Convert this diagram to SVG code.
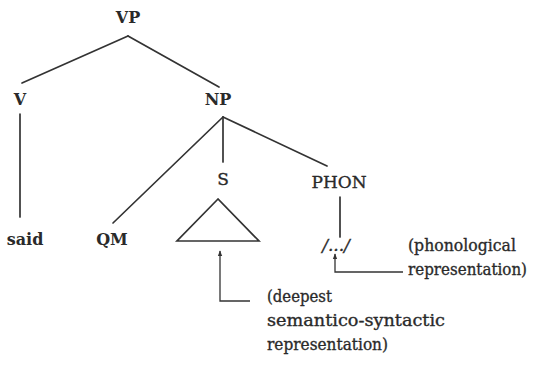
<svg xmlns="http://www.w3.org/2000/svg" width="535" height="365" viewBox="0 0 535 365">
<defs>
<style>
.lb{font-family:"DejaVu Serif","Liberation Serif",serif;font-weight:bold;font-size:16px;fill:#2a2a2a;text-anchor:middle}
.rg{font-family:"DejaVu Serif","Liberation Serif",serif;font-size:17px;fill:#2a2a2a;stroke:#2a2a2a;stroke-width:0.35}
.ln{stroke:#333;stroke-width:1.7;fill:none;stroke-linecap:round}
.ar{stroke:#333;stroke-width:1.3;fill:none}
</style>
<marker id="ah" viewBox="0 0 8 8" refX="7" refY="4" markerWidth="6" markerHeight="6" orient="auto" markerUnits="userSpaceOnUse">
<path d="M0,1 L8,4 L0,7 Z" fill="#333"/>
</marker>
</defs>
<rect width="535" height="365" fill="#fff"/>
<g id="connectors">
<line class="ln" x1="128" y1="36" x2="22" y2="83"/>
<line class="ln" x1="128" y1="36" x2="219" y2="87"/>
<line class="ln" x1="20" y1="114" x2="20" y2="217"/>
<line class="ln" x1="223" y1="117" x2="113" y2="223"/>
<line class="ln" x1="223" y1="117" x2="223" y2="162"/>
<line class="ln" x1="223" y1="117" x2="327" y2="166"/>
<line class="ln" x1="340" y1="197" x2="340" y2="237"/>
<polyline class="ar" points="250,301 220,301 220,251" marker-end="url(#ah)"/>
<polyline class="ar" points="403,272 335,272 335,254" marker-end="url(#ah)"/>
</g>
<g id="VP"><text class="lb" x="128" y="23">VP</text></g>
<g id="V"><text class="lb" x="20" y="105">V</text></g>
<g id="NP"><text class="lb" x="218" y="105">NP</text></g>
<g id="said"><text class="lb" x="25" y="245">said</text></g>
<g id="QM"><text class="lb" x="112" y="245">QM</text></g>
<g id="S">
<text class="rg" x="223" y="185" text-anchor="middle">S</text>
<polygon class="ln" points="218,199 177,241 259,241" stroke-linejoin="miter"/>
</g>
<g id="PHON"><text class="rg" x="339" y="188" text-anchor="middle" font-size="16.5">PHON</text></g>
<g id="phon-form"><text class="rg" x="336" y="251" text-anchor="middle" font-style="italic" font-size="14">/.../</text></g>
<g id="phon-note">
<text class="rg" x="408" y="251" textLength="108" lengthAdjust="spacingAndGlyphs">(phonological</text>
<text class="rg" x="527" y="275" font-size="15.5" text-anchor="end" textLength="119" lengthAdjust="spacingAndGlyphs">representation)</text>
</g>
<g id="deep-note">
<text class="rg" x="267" y="302" textLength="65" lengthAdjust="spacingAndGlyphs">(deepest</text>
<text class="rg" x="267" y="326" textLength="178" lengthAdjust="spacingAndGlyphs">semantico-syntactic</text>
<text class="rg" x="267" y="350" textLength="121" lengthAdjust="spacingAndGlyphs">representation)</text>
</g>
</svg>
